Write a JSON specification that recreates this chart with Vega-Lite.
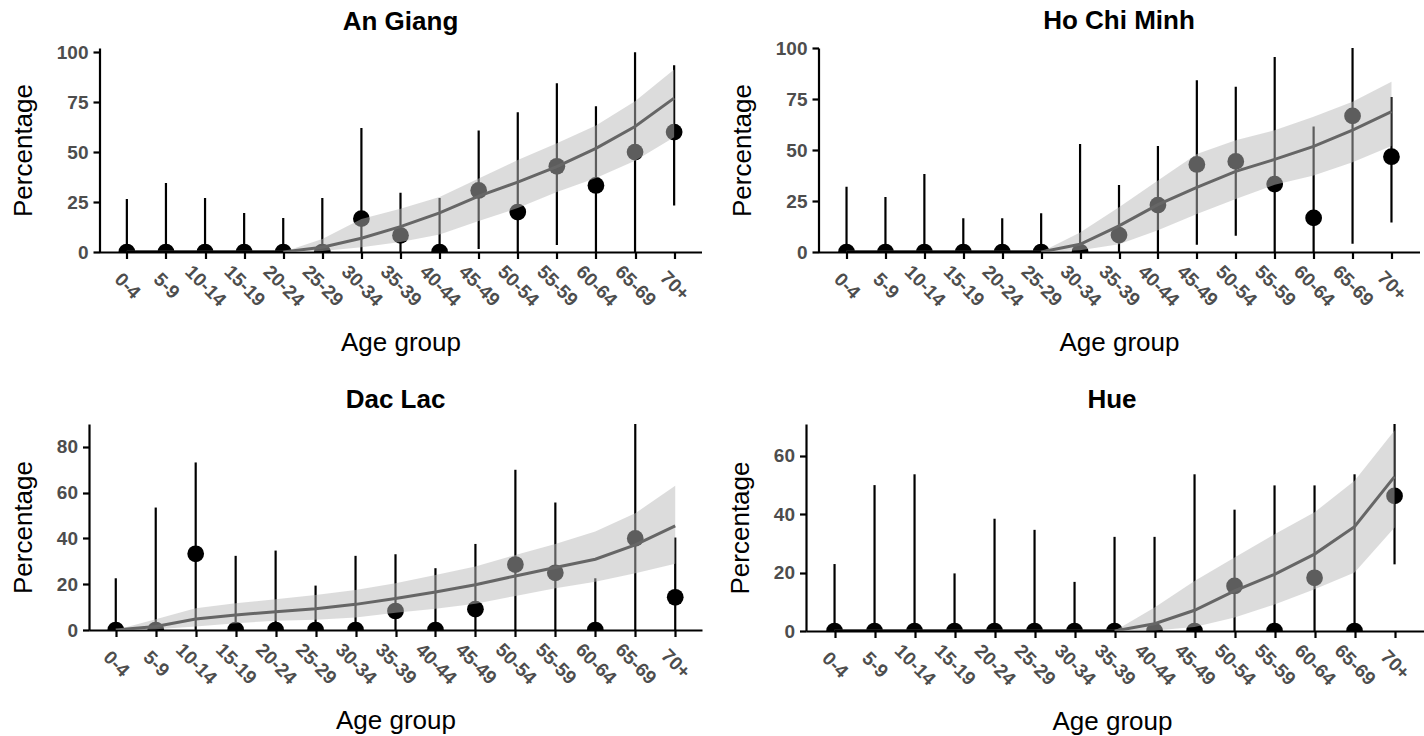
{
  "$schema": "https://vega.github.io/schema/vega-lite/v6.json",
  "padding": {"left": 10, "top": 8, "right": 2, "bottom": 2},
  "background": "white",
  "datasets": {
    "rows": [
      {"region": "An Giang", "age": "0-4", "p": 0, "lo": 0, "hi": 26.5, "fit": 0, "flo": 0, "fhi": 0},
      {"region": "An Giang", "age": "5-9", "p": 0, "lo": 0, "hi": 34.5, "fit": 0, "flo": 0, "fhi": 0},
      {"region": "An Giang", "age": "10-14", "p": 0, "lo": 0, "hi": 27, "fit": 0, "flo": 0, "fhi": 0},
      {"region": "An Giang", "age": "15-19", "p": 0, "lo": 0, "hi": 19.5, "fit": 0, "flo": 0, "fhi": 0},
      {"region": "An Giang", "age": "20-24", "p": 0, "lo": 0, "hi": 17, "fit": 0, "flo": 0, "fhi": 0},
      {"region": "An Giang", "age": "25-29", "p": 0, "lo": 0, "hi": 27, "fit": 2.4, "flo": 0.5, "fhi": 6.5},
      {"region": "An Giang", "age": "30-34", "p": 16.7, "lo": 0, "hi": 62, "fit": 6.9, "flo": 2.4, "fhi": 16.5},
      {"region": "An Giang", "age": "35-39", "p": 8.3, "lo": 0, "hi": 29.6, "fit": 12.7, "flo": 5, "fhi": 21.7},
      {"region": "An Giang", "age": "40-44", "p": 0, "lo": 0, "hi": 27, "fit": 19.6, "flo": 8.7, "fhi": 27.5},
      {"region": "An Giang", "age": "45-49", "p": 30.8, "lo": 1.5, "hi": 60.8, "fit": 28, "flo": 15.5, "fhi": 36.8},
      {"region": "An Giang", "age": "50-54", "p": 20, "lo": 0, "hi": 70, "fit": 35, "flo": 22, "fhi": 46},
      {"region": "An Giang", "age": "55-59", "p": 42.9, "lo": 3.5, "hi": 84.5, "fit": 42.7, "flo": 30, "fhi": 54.4},
      {"region": "An Giang", "age": "60-64", "p": 33.3, "lo": 0, "hi": 73, "fit": 51.9, "flo": 37, "fhi": 63.3},
      {"region": "An Giang", "age": "65-69", "p": 50, "lo": 0, "hi": 100, "fit": 62.8, "flo": 45.7, "fhi": 75.4},
      {"region": "An Giang", "age": "70+", "p": 60, "lo": 23.3, "hi": 93.5, "fit": 77, "flo": 57.4, "fhi": 91.3},

      {"region": "Ho Chi Minh", "age": "0-4", "p": 0, "lo": 0, "hi": 32, "fit": 0, "flo": 0, "fhi": 0},
      {"region": "Ho Chi Minh", "age": "5-9", "p": 0, "lo": 0, "hi": 27, "fit": 0, "flo": 0, "fhi": 0},
      {"region": "Ho Chi Minh", "age": "10-14", "p": 0, "lo": 0, "hi": 38.2, "fit": 0, "flo": 0, "fhi": 0},
      {"region": "Ho Chi Minh", "age": "15-19", "p": 0, "lo": 0, "hi": 16.5, "fit": 0, "flo": 0, "fhi": 0},
      {"region": "Ho Chi Minh", "age": "20-24", "p": 0, "lo": 0, "hi": 16.5, "fit": 0, "flo": 0, "fhi": 0},
      {"region": "Ho Chi Minh", "age": "25-29", "p": 0, "lo": 0, "hi": 19, "fit": 0, "flo": 0, "fhi": 0},
      {"region": "Ho Chi Minh", "age": "30-34", "p": 0, "lo": 0, "hi": 53, "fit": 3.8, "flo": 0.8, "fhi": 9.5},
      {"region": "Ho Chi Minh", "age": "35-39", "p": 8.3, "lo": 0, "hi": 32.8, "fit": 12.8, "flo": 3.8, "fhi": 21.9},
      {"region": "Ho Chi Minh", "age": "40-44", "p": 23, "lo": 0, "hi": 52, "fit": 23.2, "flo": 10.7, "fhi": 35},
      {"region": "Ho Chi Minh", "age": "45-49", "p": 42.9, "lo": 3.5, "hi": 84.2, "fit": 31.7, "flo": 18.6, "fhi": 48},
      {"region": "Ho Chi Minh", "age": "50-54", "p": 44.4, "lo": 8, "hi": 81, "fit": 39.5, "flo": 26, "fhi": 54.8},
      {"region": "Ho Chi Minh", "age": "55-59", "p": 33.3, "lo": 0, "hi": 95.6, "fit": 45.4, "flo": 33, "fhi": 59.7},
      {"region": "Ho Chi Minh", "age": "60-64", "p": 16.7, "lo": 0, "hi": 61.5, "fit": 51.8, "flo": 37.5, "fhi": 66.3},
      {"region": "Ho Chi Minh", "age": "65-69", "p": 66.7, "lo": 4, "hi": 100, "fit": 59.7, "flo": 44, "fhi": 73.7},
      {"region": "Ho Chi Minh", "age": "70+", "p": 46.7, "lo": 14.5, "hi": 76, "fit": 68.8, "flo": 52, "fhi": 83.5},

      {"region": "Dac Lac", "age": "0-4", "p": 0, "lo": 0, "hi": 22.6, "fit": 0, "flo": 0, "fhi": 0},
      {"region": "Dac Lac", "age": "5-9", "p": 0, "lo": 0, "hi": 53.5, "fit": 1.5, "flo": 0.3, "fhi": 4.7},
      {"region": "Dac Lac", "age": "10-14", "p": 33.3, "lo": 0, "hi": 73.2, "fit": 4.8, "flo": 1.5, "fhi": 9.5},
      {"region": "Dac Lac", "age": "15-19", "p": 0, "lo": 0, "hi": 32.4, "fit": 6.6, "flo": 3, "fhi": 11.7},
      {"region": "Dac Lac", "age": "20-24", "p": 0, "lo": 0, "hi": 34.7, "fit": 8, "flo": 4, "fhi": 13.4},
      {"region": "Dac Lac", "age": "25-29", "p": 0, "lo": 0, "hi": 19.4, "fit": 9.3, "flo": 4.5, "fhi": 15.3},
      {"region": "Dac Lac", "age": "30-34", "p": 0, "lo": 0, "hi": 32.4, "fit": 11.2, "flo": 5.5, "fhi": 17.5},
      {"region": "Dac Lac", "age": "35-39", "p": 8.3, "lo": 0, "hi": 33.1, "fit": 13.8, "flo": 7.5, "fhi": 20.4},
      {"region": "Dac Lac", "age": "40-44", "p": 0, "lo": 0, "hi": 27, "fit": 16.6, "flo": 9.3, "fhi": 24},
      {"region": "Dac Lac", "age": "45-49", "p": 9.1, "lo": 0, "hi": 37.6, "fit": 19.8, "flo": 11.5, "fhi": 27.7},
      {"region": "Dac Lac", "age": "50-54", "p": 28.6, "lo": 0, "hi": 70, "fit": 23.6, "flo": 14.9, "fhi": 32.8},
      {"region": "Dac Lac", "age": "55-59", "p": 25, "lo": 0, "hi": 55.7, "fit": 27.3, "flo": 18.2, "fhi": 37.6},
      {"region": "Dac Lac", "age": "60-64", "p": 0, "lo": 0, "hi": 22.6, "fit": 30.9, "flo": 21.1, "fhi": 43},
      {"region": "Dac Lac", "age": "65-69", "p": 40, "lo": 0, "hi": 90, "fit": 37.2, "flo": 24.8, "fhi": 51},
      {"region": "Dac Lac", "age": "70+", "p": 14.3, "lo": 0, "hi": 40.4, "fit": 45.5, "flo": 28.9, "fhi": 63},

      {"region": "Hue", "age": "0-4", "p": 0, "lo": 0, "hi": 22.9, "fit": 0, "flo": 0, "fhi": 0},
      {"region": "Hue", "age": "5-9", "p": 0, "lo": 0, "hi": 49.9, "fit": 0, "flo": 0, "fhi": 0},
      {"region": "Hue", "age": "10-14", "p": 0, "lo": 0, "hi": 53.6, "fit": 0, "flo": 0, "fhi": 0},
      {"region": "Hue", "age": "15-19", "p": 0, "lo": 0, "hi": 19.7, "fit": 0, "flo": 0, "fhi": 0},
      {"region": "Hue", "age": "20-24", "p": 0, "lo": 0, "hi": 38.4, "fit": 0, "flo": 0, "fhi": 0},
      {"region": "Hue", "age": "25-29", "p": 0, "lo": 0, "hi": 34.6, "fit": 0, "flo": 0, "fhi": 0},
      {"region": "Hue", "age": "30-34", "p": 0, "lo": 0, "hi": 16.8, "fit": 0, "flo": 0, "fhi": 0},
      {"region": "Hue", "age": "35-39", "p": 0, "lo": 0, "hi": 32.2, "fit": 0, "flo": 0, "fhi": 0},
      {"region": "Hue", "age": "40-44", "p": 0, "lo": 0, "hi": 32.2, "fit": 2.5, "flo": 0.2, "fhi": 8},
      {"region": "Hue", "age": "45-49", "p": 0, "lo": 0, "hi": 53.6, "fit": 7.1, "flo": 1.4, "fhi": 17.1},
      {"region": "Hue", "age": "50-54", "p": 15.4, "lo": 0, "hi": 41.5, "fit": 13.7, "flo": 4.6, "fhi": 25.1},
      {"region": "Hue", "age": "55-59", "p": 0, "lo": 0, "hi": 49.8, "fit": 19.4, "flo": 9.1, "fhi": 33.1},
      {"region": "Hue", "age": "60-64", "p": 18.2, "lo": 0, "hi": 49.8, "fit": 26.3, "flo": 14.3, "fhi": 40.6},
      {"region": "Hue", "age": "65-69", "p": 0, "lo": 0, "hi": 53.6, "fit": 35.7, "flo": 20, "fhi": 51.4},
      {"region": "Hue", "age": "70+", "p": 46.2, "lo": 22.8, "hi": 70.8, "fit": 52.8, "flo": 35.4, "fhi": 68.6}
    ]
  },
  "data": {"name": "rows"},
  "center": true,
  "spacing": 31,
  "vconcat": [
    {
      "spacing": 27,
      "hconcat": [
        {
          "title": {"text": "An Giang", "offset": 4.8, "dy": -3},
          "width": 602, "height": 204,
          "transform": [{"filter": "datum.region === 'An Giang'"}],
          "encoding": {
            "x": {"field": "age", "type": "ordinal", "sort": ["0-4","5-9","10-14","15-19","20-24","25-29","30-34","35-39","40-44","45-49","50-54","55-59","60-64","65-69","70+"],
                  "scale": {"type": "point", "padding": 0.7},
                  "axis": {"title": "Age group", "labelAngle": 45, "labelAlign": "center", "labelBaseline": "middle", "labelPadding": 27, "titlePadding": 20}}
          },
          "layer": [
            {"mark": {"type": "rule", "color": "black", "strokeWidth": 2.2, "clip": true},
             "encoding": {"y": {"field": "lo", "type": "quantitative", "scale": {"domain": [0, 102.1], "nice": false, "zero": true},
                                "axis": {"title": "Percentage", "values": [0, 25, 50, 75, 100]}},
                          "y2": {"field": "hi"}}},
            {"mark": {"type": "point", "filled": true, "color": "black", "opacity": 1, "size": 280, "clip": true},
             "encoding": {"y": {"field": "p", "type": "quantitative"}}},
            {"mark": {"type": "area", "color": "#b9b9b9", "opacity": 0.5, "clip": true},
             "encoding": {"y": {"field": "flo", "type": "quantitative"}, "y2": {"field": "fhi"}}},
            {"mark": {"type": "line", "color": "#666666", "strokeWidth": 3, "clip": true},
             "encoding": {"y": {"field": "fit", "type": "quantitative"}}},
            {"transform": [{"filter": "datum.fit === 0"}],
             "mark": {"type": "line", "color": "black", "strokeWidth": 3, "clip": true},
             "encoding": {"y": {"field": "fit", "type": "quantitative"}}}
          ]
        },
        {
          "title": {"text": "Ho Chi Minh", "offset": 4.8},
          "width": 601, "height": 204,
          "transform": [{"filter": "datum.region === 'Ho Chi Minh'"}],
          "encoding": {
            "x": {"field": "age", "type": "ordinal", "sort": ["0-4","5-9","10-14","15-19","20-24","25-29","30-34","35-39","40-44","45-49","50-54","55-59","60-64","65-69","70+"],
                  "scale": {"type": "point", "padding": 0.72},
                  "axis": {"title": "Age group", "labelAngle": 45, "labelAlign": "center", "labelBaseline": "middle", "labelPadding": 27, "titlePadding": 20}}
          },
          "layer": [
            {"mark": {"type": "rule", "color": "black", "strokeWidth": 2.2, "clip": true},
             "encoding": {"y": {"field": "lo", "type": "quantitative", "scale": {"domain": [0, 100], "nice": false, "zero": true},
                                "axis": {"title": "Percentage", "values": [0, 25, 50, 75, 100]}},
                          "y2": {"field": "hi"}}},
            {"mark": {"type": "point", "filled": true, "color": "black", "opacity": 1, "size": 280, "clip": true},
             "encoding": {"y": {"field": "p", "type": "quantitative"}}},
            {"mark": {"type": "area", "color": "#b9b9b9", "opacity": 0.5, "clip": true},
             "encoding": {"y": {"field": "flo", "type": "quantitative"}, "y2": {"field": "fhi"}}},
            {"mark": {"type": "line", "color": "#666666", "strokeWidth": 3, "clip": true},
             "encoding": {"y": {"field": "fit", "type": "quantitative"}}},
            {"transform": [{"filter": "datum.fit === 0"}],
             "mark": {"type": "line", "color": "black", "strokeWidth": 3, "clip": true},
             "encoding": {"y": {"field": "fit", "type": "quantitative"}}}
          ]
        }
      ]
    },
    {
      "spacing": 25,
      "hconcat": [
        {
          "title": {"text": "Dac Lac", "offset": 11},
          "width": 613, "height": 206,
          "transform": [{"filter": "datum.region === 'Dac Lac'"}],
          "encoding": {
            "x": {"field": "age", "type": "ordinal", "sort": ["0-4","5-9","10-14","15-19","20-24","25-29","30-34","35-39","40-44","45-49","50-54","55-59","60-64","65-69","70+"],
                  "scale": {"type": "point", "padding": 0.67},
                  "axis": {"title": "Age group", "labelAngle": 45, "labelAlign": "center", "labelBaseline": "middle", "labelPadding": 27, "titlePadding": 20}}
          },
          "layer": [
            {"mark": {"type": "rule", "color": "black", "strokeWidth": 2.2, "clip": true},
             "encoding": {"y": {"field": "lo", "type": "quantitative", "scale": {"domain": [0, 90], "nice": false, "zero": true},
                                "axis": {"title": "Percentage", "values": [0, 20, 40, 60, 80]}},
                          "y2": {"field": "hi"}}},
            {"mark": {"type": "point", "filled": true, "color": "black", "opacity": 1, "size": 280, "clip": true},
             "encoding": {"y": {"field": "p", "type": "quantitative"}}},
            {"mark": {"type": "area", "color": "#b9b9b9", "opacity": 0.5, "clip": true},
             "encoding": {"y": {"field": "flo", "type": "quantitative"}, "y2": {"field": "fhi"}}},
            {"mark": {"type": "line", "color": "#666666", "strokeWidth": 3, "clip": true},
             "encoding": {"y": {"field": "fit", "type": "quantitative"}}},
            {"transform": [{"filter": "datum.fit === 0"}],
             "mark": {"type": "line", "color": "black", "strokeWidth": 3, "clip": true},
             "encoding": {"y": {"field": "fit", "type": "quantitative"}}}
          ]
        },
        {
          "title": {"text": "Hue", "offset": 11, "dx": -6},
          "width": 624, "height": 207,
          "transform": [{"filter": "datum.region === 'Hue'"}],
          "encoding": {
            "x": {"field": "age", "type": "ordinal", "sort": ["0-4","5-9","10-14","15-19","20-24","25-29","30-34","35-39","40-44","45-49","50-54","55-59","60-64","65-69","70+"],
                  "scale": {"type": "point", "padding": 0.8, "align": 0.446},
                  "axis": {"title": "Age group", "labelAngle": 45, "labelAlign": "center", "labelBaseline": "middle", "labelPadding": 27, "titlePadding": 20, "titleX": 306}}
          },
          "layer": [
            {"mark": {"type": "rule", "color": "black", "strokeWidth": 2.2, "clip": true},
             "encoding": {"y": {"field": "lo", "type": "quantitative", "scale": {"domain": [0, 70.8], "nice": false, "zero": true},
                                "axis": {"title": "Percentage", "values": [0, 20, 40, 60]}},
                          "y2": {"field": "hi"}}},
            {"mark": {"type": "point", "filled": true, "color": "black", "opacity": 1, "size": 280, "clip": true},
             "encoding": {"y": {"field": "p", "type": "quantitative"}}},
            {"mark": {"type": "area", "color": "#b9b9b9", "opacity": 0.5, "clip": true},
             "encoding": {"y": {"field": "flo", "type": "quantitative"}, "y2": {"field": "fhi"}}},
            {"mark": {"type": "line", "color": "#666666", "strokeWidth": 3, "clip": true},
             "encoding": {"y": {"field": "fit", "type": "quantitative"}}},
            {"transform": [{"filter": "datum.fit === 0"}],
             "mark": {"type": "line", "color": "black", "strokeWidth": 3, "clip": true},
             "encoding": {"y": {"field": "fit", "type": "quantitative"}}}
          ]
        }
      ]
    }
  ],
  "config": {
    "font": "Liberation Sans",
    "view": {"stroke": null},
    "title": {"fontSize": 26, "fontWeight": "bold", "color": "black", "anchor": "middle", "frame": "group", "font": "Liberation Sans"},
    "axis": {
      "grid": false,
      "domainColor": "black", "domainWidth": 2.2,
      "tickColor": "black", "tickWidth": 2.2, "tickSize": 6.5,
      "labelFont": "Liberation Sans", "labelFontSize": 19, "labelFontWeight": "bold", "labelColor": "#4d4d4d",
      "titleFont": "Liberation Sans", "titleFontSize": 26, "titleFontWeight": "normal", "titleColor": "black"
    },
    "axisY": {"labelPadding": 5, "titlePadding": 20}
  }
}
